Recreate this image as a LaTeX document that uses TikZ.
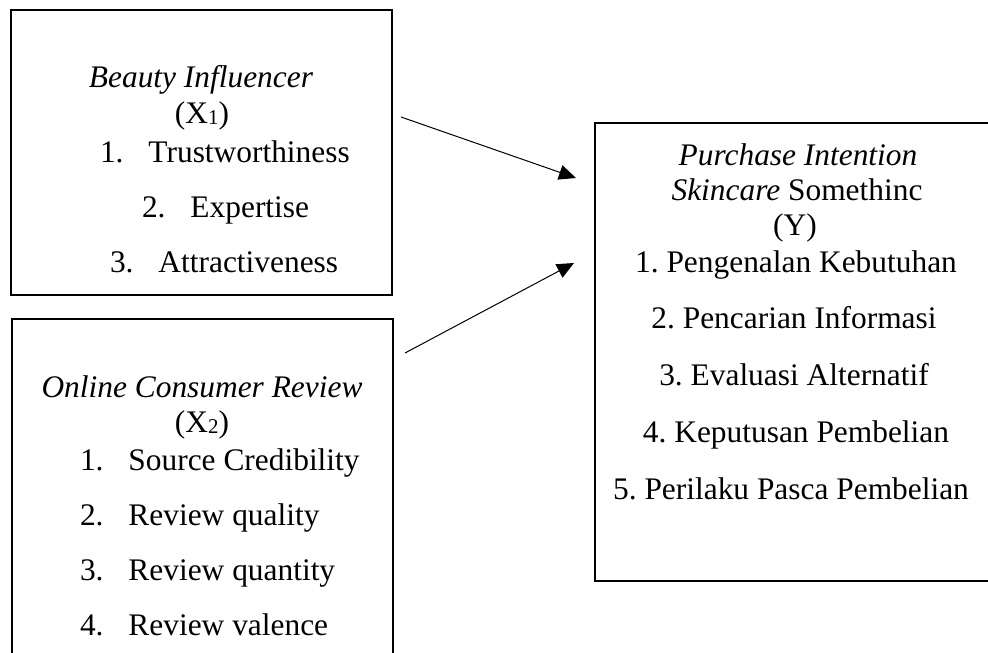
\documentclass[tikz,border=0pt]{standalone}
\usepackage{fontspec}
\setmainfont{Liberation Serif}
\usetikzlibrary{arrows.meta}
\frenchspacing
\newcommand\fsz{\fontsize{31.4}{36}\selectfont\frenchspacing}
\newcommand\subd[1]{\raisebox{-1pt}{\fontsize{21}{21}\selectfont #1}}
\newcommand\numb[1]{\makebox[48.5pt][l]{#1}}
\tikzset{
  box/.style={draw, line width=1.1pt, inner sep=0pt, outer sep=0pt},
  txt/.style={anchor=base, inner sep=0pt, outer sep=0pt, font=\fsz},
  txtl/.style={anchor=base west, inner sep=0pt, outer sep=0pt, font=\fsz},
  arr/.style={line width=1pt, -{Triangle[length=17pt,width=15pt]}}
}
\begin{document}
\begin{tikzpicture}[x=1pt,y=-1pt]
\clip (0,0) rectangle (988,653);
\fill[white] (0,0) rectangle (988,653);
% boxes
\node[box, minimum width=381pt, minimum height=285pt] (b1) at (201.5,152.5) {};
\node[box, minimum width=381pt, minimum height=400pt] (b2) at (202.5,519) {};
\node[box, minimum width=410pt, minimum height=458pt] (b3) at (800,352) {};
% box 1 text
\node[txt] (t1a) at (201,87) {\textit{Beauty Influencer}};
\node[txt] (t1b) at (202,123) {(X\subd{1})};
\node[txtl] (t1c) at (100,162) {\numb{1.}Trustworthiness};
\node[txtl] (t1d) at (142,217) {\numb{2.}Expertise};
\node[txtl] (t1e) at (110,272) {\numb{3.}Attractiveness};
% box 2 text
\node[txt] (t2a) at (202,397) {\textit{Online Consumer Review}};
\node[txt] (t2b) at (202,432) {(X\subd{2})};
\node[txtl] (t2c) at (80,470) {\numb{1.}Source Credibility};
\node[txtl] (t2d) at (80,525) {\numb{2.}Review quality};
\node[txtl] (t2e) at (80,580) {\numb{3.}Review quantity};
\node[txtl] (t2f) at (80,635) {\numb{4.}Review valence};
% box 3 text
\node[txt] (t3a) at (798,165) {\textit{Purchase Intention}};
\node[txt] (t3b) at (797,200) {\textit{Skincare} Somethinc};
\node[txt] (t3c) at (795,235) {(Y)};
\node[txt] (t3d) at (796,272) {1. Pengenalan Kebutuhan};
\node[txt] (t3e) at (794,328) {2. Pencarian Informasi};
\node[txt] (t3f) at (794,385) {3. Evaluasi Alternatif};
\node[txt] (t3g) at (796,442) {4. Keputusan Pembelian};
\node[txt] (t3h) at (791,499) {5. Perilaku Pasca Pembelian};
% arrows
\coordinate (a1s) at (401,117);
\coordinate (a1e) at (576,178);
\coordinate (a2s) at (405,353);
\coordinate (a2e) at (574,263);
\draw[arr] (a1s) -- (a1e);
\draw[arr] (a2s) -- (a2e);
\end{tikzpicture}
\end{document}
